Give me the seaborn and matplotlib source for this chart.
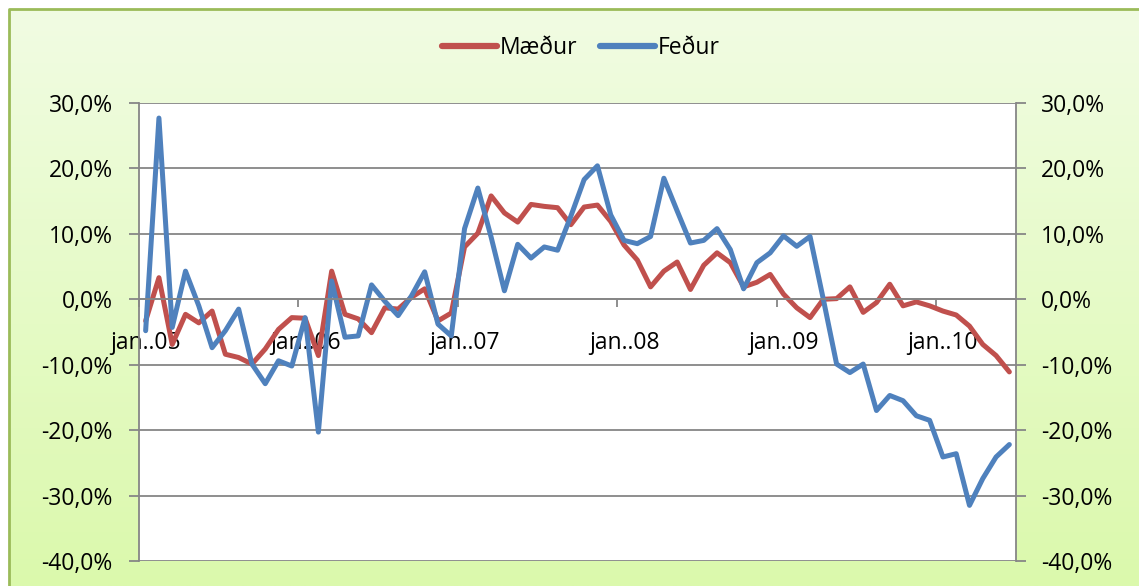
import numpy as np
import pandas as pd
import matplotlib
matplotlib.use("Agg")
import matplotlib.pyplot as plt
import seaborn as sns
from matplotlib.ticker import FuncFormatter, FixedLocator
from matplotlib.lines import Line2D

sns.set_theme(style="white")
plt.rcParams['font.family'] = ['Open Sans', 'DejaVu Sans']

# ---- data (percent change, monthly jan 2005 - jun 2010) ----
months = pd.period_range("2005-01", "2010-06", freq="M")
tick_labels = ["jan..05", "jan..06", "jan..07", "jan..08", "jan..09", "jan..10"]

maedur = [-3.3, 3.3, -6.9, -2.3, -3.6, -1.8, -8.4, -8.9, -9.9, -7.6, -4.6, -2.8,
          -2.9, -8.6, 4.3, -2.3, -3.0, -5.1, -1.3, -1.5, 0.3, 1.6, -3.3, -2.1,
          8.0, 10.1, 15.8, 13.2, 11.8, 14.5, 14.2, 14.0, 11.4, 14.1, 14.4, 11.9,
          8.3, 6.0, 1.9, 4.3, 5.7, 1.5, 5.2, 7.1, 5.6, 1.9, 2.6, 3.8,
          0.8, -1.3, -2.8, 0.0, 0.1, 1.9, -2.0, -0.5, 2.3, -1.0, -0.4, -1.0,
          -1.8, -2.4, -4.1, -6.9, -8.6, -11.1]

fedur = [-4.8, 27.7, -4.3, 4.3, -1.0, -7.4, -4.8, -1.5, -9.9, -12.9, -9.4, -10.2,
         -2.8, -20.3, 2.8, -5.8, -5.6, 2.2, -0.3, -2.5, 0.5, 4.2, -3.8, -5.6,
         10.8, 17.0, 9.5, 1.3, 8.4, 6.3, 8.0, 7.5, 12.7, 18.3, 20.4, 12.9,
         9.0, 8.5, 9.6, 18.5, 13.5, 8.6, 9.0, 10.8, 7.6, 1.6, 5.6, 7.1,
         9.7, 8.1, 9.6, 0.0, -9.9, -11.2, -9.9, -17.0, -14.7, -15.5, -17.8, -18.5,
         -24.1, -23.6, -31.5, -27.4, -24.1, -22.2]

df = pd.DataFrame({
    "i": np.arange(len(months)),
    "Mæður": np.array(maedur) / 100.0,
    "Feður": np.array(fedur) / 100.0,
})
long = df.melt(id_vars="i", var_name="series", value_name="value")

RED = "#C0504D"
BLUE = "#4F81BD"
GRID = "#868686"
TXT = "#000000"
FS = 16.5

W, H = 1139, 586
fig = plt.figure(figsize=(W / 100, H / 100), dpi=100)
fig.patch.set_facecolor("white")

# background gradient panel
bg = fig.add_axes([0, 0, 1, 1], zorder=-10)
grad = np.linspace(0, 1, 256)[:, None]
top = np.array([0xF1, 0xFC, 0xE3]) / 255
bot = np.array([0xDB, 0xF9, 0xAC]) / 255
img = top[None, None, :] * (1 - grad[:, :, None]) + bot[None, None, :] * grad[:, :, None]
img = np.repeat(img, 4, axis=1)
x0 = 9 / W
y1 = 1 - 9 / H
bg.imshow(img, extent=[x0, 1.0, 0.0, y1], aspect="auto", origin="upper")
bg.plot([x0, x0, 1.0], [0.0, y1, y1], color="#9BBB59", lw=2.0, solid_capstyle="butt")
bg.set_xlim(0, 1)
bg.set_ylim(0, 1)
bg.axis("off")

left, right = 139 / W, 1016 / W
bottom, topy = 1 - 561 / H, 1 - 103 / H
ax = fig.add_axes([left, bottom, right - left, topy - bottom])
ax.set_facecolor("white")

sns.lineplot(data=long, x="i", y="value", hue="series",
             palette={"Mæður": RED, "Feður": BLUE}, linewidth=3.6,
             ax=ax, legend=False, sort=False)

n = len(months)
ax.set_xlim(-0.5, n - 0.5)
ax.set_ylim(-0.40, 0.30)
yt = np.arange(-0.40, 0.301, 0.10)
ax.set_yticks(yt)


def pct(v, p):
    r = round(v * 100, 1)
    if r == 0:
        r = 0.0
    return f"{r:.1f}%".replace(".", ",")


fmt = FuncFormatter(pct)
ax.yaxis.set_major_formatter(fmt)
ax.yaxis.grid(True, color=GRID, lw=1.3)
ax.set_axisbelow(True)
ax.set_xlabel("")
ax.set_ylabel("")

ax.spines["top"].set_visible(False)
for s in ["left", "right", "bottom"]:
    ax.spines[s].set_color(GRID)
    ax.spines[s].set_linewidth(1.3)
ax.spines["bottom"].set_position(("data", 0))

# x ticks: labels on january points, tick marks on year boundaries
ax.set_xticks(np.arange(0, n, 12))
ax.set_xticklabels(tick_labels)
ax.tick_params(axis="x", which="major", length=0, pad=23, labelsize=FS, labelcolor=TXT)
ax.xaxis.set_minor_locator(FixedLocator(np.arange(-0.5, n, 12)))
ax.tick_params(axis="x", which="minor", length=6, width=1.3, color=GRID, direction="out", bottom=True)

ax.tick_params(axis="y", which="major", length=7, width=1.3, color=GRID, left=True,
               labelsize=FS, labelcolor=TXT, pad=12)

ax2 = ax.twinx()
ax2.set_ylim(ax.get_ylim())
ax2.set_yticks(yt)
ax2.yaxis.set_major_formatter(fmt)
ax2.tick_params(axis="y", which="major", length=7, width=1.3, color=GRID, right=True,
                labelsize=FS, labelcolor=TXT, pad=11)
for s in ax2.spines.values():
    s.set_visible(False)
ax2.grid(False)

# legend
handles = [Line2D([], [], color=RED, lw=4.5), Line2D([], [], color=BLUE, lw=4.5)]
fig.legend(handles, ["Mæður", "Feður"], loc="center", bbox_to_anchor=(581 / W, 1 - 48 / H),
           ncol=2, frameon=False, fontsize=FS, handlelength=2.4, handletextpad=0.12,
           columnspacing=1.0, labelcolor=TXT)

fig.savefig("out.png", dpi=100, facecolor=fig.get_facecolor())
